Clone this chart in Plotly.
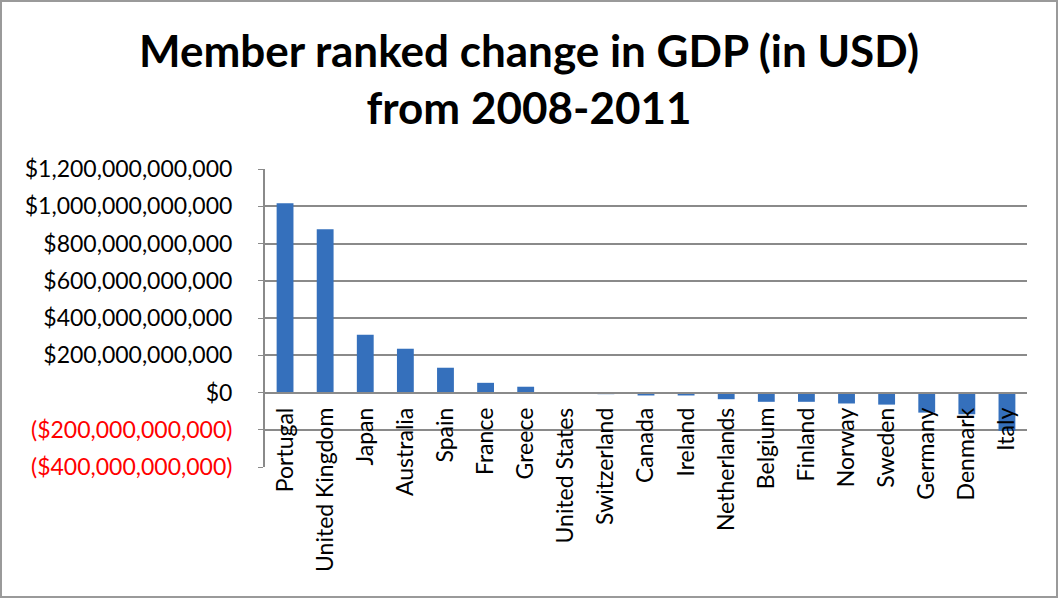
import plotly.graph_objects as go

countries = ["Portugal", "United Kingdom", "Japan", "Australia", "Spain", "France",
             "Greece", "United States", "Switzerland", "Canada", "Ireland",
             "Netherlands", "Belgium", "Finland", "Norway", "Sweden", "Germany",
             "Denmark", "Italy"]
gdp_change = [1016e9, 876e9, 310e9, 235e9, 133e9, 52e9, 31e9, -3e9, -9e9, -16e9,
              -16e9, -36e9, -50e9, -50e9, -59e9, -65e9, -108e9, -117e9, -206e9]

y_tickvals = [1200e9, 1000e9, 800e9, 600e9, 400e9, 200e9, 0, -200e9, -400e9]
y_ticktext = ["$1,200,000,000,000", "$1,000,000,000,000", "$800,000,000,000",
              "$600,000,000,000", "$400,000,000,000", "$200,000,000,000", "$0",
              "<span style='color:#ff0000'>($200,000,000,000)</span>",
              "<span style='color:#ff0000'>($400,000,000,000)</span>"]

W, H = 1058, 598
L, R, T, B = 265, 31, 169, 131
y_min, y_max = -400e9, 1200e9
zero_pos = (0 - y_min) / (y_max - y_min)

fig = go.Figure()
fig.add_trace(go.Bar(
    x=countries, y=gdp_change,
    marker=dict(color="#3570BC", line=dict(width=0)),
    width=0.42,
))

font = "Lato, 'Open Sans', sans-serif"
fig.update_layout(
    width=W, height=H,
    margin=dict(l=L, r=R, t=T, b=B, pad=0),
    paper_bgcolor="white", plot_bgcolor="white",
    showlegend=False,
    font=dict(family=font, color="black"),
    title=dict(
        text="<b>Member ranked change in GDP (in USD)<br>from 2008-2011</b>",
        x=0.5, xref="container", xanchor="center",
        y=1 - 67 / H, yref="container", yanchor="middle",
        font=dict(family=font, size=44, color="black"),
    ),
    yaxis=dict(
        range=[y_min, y_max], tickvals=y_tickvals, ticktext=y_ticktext,
        showgrid=True, gridcolor="#8a8a8a", gridwidth=1.5,
        showline=True, linecolor="#8a8a8a", linewidth=2,
        ticks="outside", ticklen=5, tickcolor="#8a8a8a",
        tickfont=dict(family=font, size=23, color="black"),
        ticklabelstandoff=21,
        zeroline=False, domain=[0, 1],
    ),
    xaxis=dict(
        type="category", anchor="free", position=zero_pos,
        showline=True, linecolor="#8a8a8a", linewidth=2,
        ticks="", tickangle=-90,
        tickfont=dict(family=font, size=23, color="black"),
        ticklabelstandoff=5,
        showgrid=False, zeroline=False,
        range=[-0.5, len(countries) - 0.5],
    ),
    shapes=[
        dict(type="rect", xref="paper", yref="paper",
             x0=(1 - L) / (W - L - R), x1=(W - 1 - L) / (W - L - R),
             y0=-(H - 1 - T - (H - T - B)) / (H - T - B),
             y1=1 + (T - 1) / (H - T - B),
             line=dict(color="#9a9a9a", width=2), layer="below"),
    ],
)

fig.write_html("out.html")
